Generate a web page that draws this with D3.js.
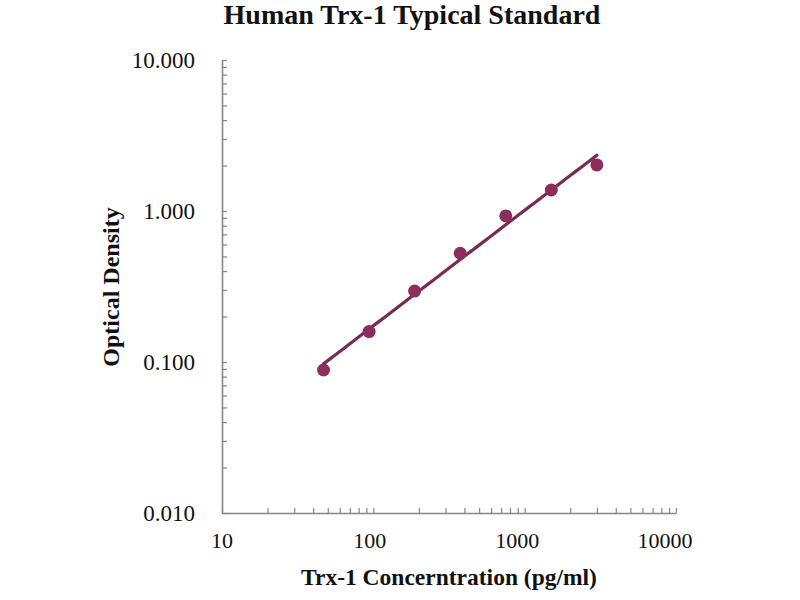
<!DOCTYPE html>
<html>
<head>
<meta charset="utf-8">
<script src="https://cdn.jsdelivr.net/npm/d3@7"></script>
<style>
  html, body { margin: 0; padding: 0; background: #fff; }
  svg { display: block; }
  text { font-family: "Liberation Serif", "Times New Roman", serif; fill: #111; }
</style>
</head>
<body>
<svg id="chart" width="800" height="600"></svg>
<script>
// Data
const concentrations = [46.875, 93.75, 187.5, 375, 750, 1500, 3000];
const opticalDensity = [0.0885, 0.159, 0.295, 0.525, 0.927, 1.377, 2.02];
const xTickValues = [10, 100, 1000, 10000];
const xTickLabels = ["10", "100", "1000", "10000"];
const yTickValues = [0.01, 0.1, 1, 10];
const yTickLabels = ["0.010", "0.100", "1.000", "10.000"];
const titleText = "Human Trx-1 Typical Standard";
const xTitle = "Trx-1 Concerntration (pg/ml)";
const yTitle = "Optical Density";

const svg = d3.select("#chart");
const axisColor = "#858585";
const lineColor = "#7a2b50";
const pointColor = "#8c2d5c";

const x = d3.scaleLog().domain([10, 10000]).range([222, 676]);
const xLabel = x.copy().range([222, 665]);
const y = d3.scaleLog().domain([0.01, 10]).range([513, 60]);

// minor + major ticks
function logTicks(lo, hi) {
  const t = [];
  for (let d = lo; d < hi; d *= 10) {
    for (let k = 1; k <= 9; k++) t.push(d * k);
  }
  t.push(hi);
  return t;
}

// X axis (ticks pointing inward/up)
const xAxis = d3.axisBottom(x)
  .tickValues(logTicks(10, 10000))
  .tickSizeInner(-5).tickSizeOuter(0)
  .tickFormat("");
const gx = svg.append("g").attr("transform", `translate(0,${y(0.01)})`).call(xAxis);
gx.select(".domain").attr("stroke", axisColor).attr("stroke-width", 1.6);
gx.selectAll(".tick line").attr("stroke", axisColor).attr("stroke-width", 1.2);

// Y axis (ticks pointing inward/right)
const yAxis = d3.axisLeft(y)
  .tickValues(logTicks(0.01, 10))
  .tickSizeInner(-5).tickSizeOuter(0)
  .tickFormat("");
const gy = svg.append("g").attr("transform", `translate(${x(10)},0)`).call(yAxis);
gy.select(".domain").attr("stroke", axisColor).attr("stroke-width", 1.6);
gy.selectAll(".tick line").attr("stroke", axisColor).attr("stroke-width", 1.2);

// Tick labels
svg.append("g").selectAll("text").data(xTickValues).join("text")
  .attr("x", d => xLabel(d))
  .attr("y", 548)
  .attr("text-anchor", "middle")
  .attr("font-size", 22)
  .text((d, i) => xTickLabels[i]);

svg.append("g").selectAll("text").data(yTickValues).join("text")
  .attr("x", 195)
  .attr("y", d => y(d))
  .attr("dy", "0.35em")
  .attr("text-anchor", "end")
  .attr("font-size", 23)
  .text((d, i) => yTickLabels[i]);

// Power trendline (least squares in log-log space)
const lx = concentrations.map(Math.log10);
const ly = opticalDensity.map(Math.log10);
const mx = d3.mean(lx), my = d3.mean(ly);
const b = d3.sum(lx.map((v, i) => (v - mx) * (ly[i] - my))) / d3.sum(lx.map(v => (v - mx) ** 2));
const a = my - b * mx;
const fit = d3.range(0, 41).map(i => {
  const c = Math.pow(10, lx[0] + (lx[lx.length - 1] - lx[0]) * i / 40);
  return [c, Math.pow(10, a + b * Math.log10(c))];
});
svg.append("path")
  .datum(fit)
  .attr("fill", "none")
  .attr("stroke", lineColor)
  .attr("stroke-width", 3.2)
  .attr("stroke-linecap", "round")
  .attr("d", d3.line().x(d => x(d[0])).y(d => y(d[1])));

// Points
svg.append("g").selectAll("circle").data(concentrations).join("circle")
  .attr("cx", d => x(d))
  .attr("cy", (d, i) => y(opticalDensity[i]))
  .attr("r", 6.5)
  .attr("fill", pointColor);

// Titles
svg.append("text")
  .attr("x", 412).attr("y", 24)
  .attr("text-anchor", "middle")
  .attr("font-size", 28).attr("font-weight", "bold")
  .text(titleText);

svg.append("text")
  .attr("x", 449).attr("y", 585)
  .attr("text-anchor", "middle")
  .attr("font-size", 23.5).attr("font-weight", "bold")
  .text(xTitle);

svg.append("text")
  .attr("transform", "translate(119,287) rotate(-90)")
  .attr("text-anchor", "middle")
  .attr("font-size", 24).attr("font-weight", "bold")
  .text(yTitle);
</script>
</body>
</html>
